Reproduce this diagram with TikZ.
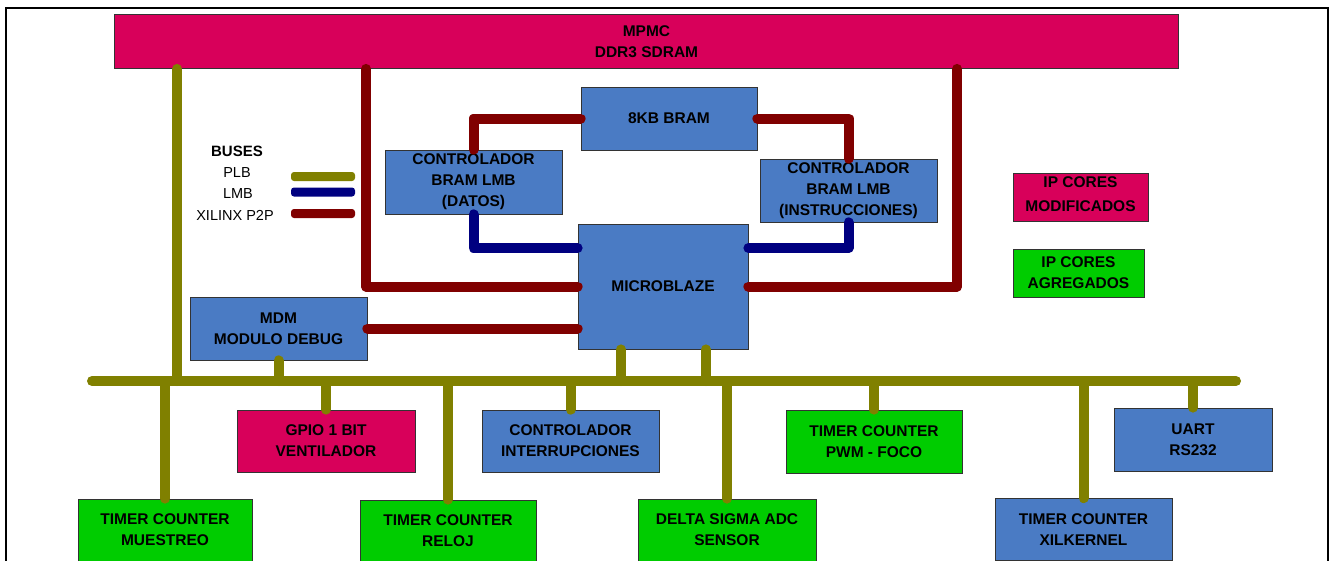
\documentclass[tikz,border=0pt]{standalone}
\usepackage{fontspec}
\setmainfont{Liberation Sans}
\usetikzlibrary{positioning}
\definecolor{mbcrimson}{HTML}{D8005A}
\definecolor{mbblue}{HTML}{4A7BC4}
\definecolor{mbgreen}{HTML}{00CC00}
\definecolor{plbolive}{HTML}{808000}
\definecolor{lmbnavy}{HTML}{000080}
\definecolor{ptpred}{HTML}{800000}

\begin{document}
\begin{tikzpicture}[x=1pt, y=-1pt,
  box/.style={draw=black!80, line width=0.8pt, inner sep=0pt, align=center,
    font=\fontsize{15.5}{21}\selectfont\bfseries},
  bus/.style={line width=10pt, line cap=round, line join=round},
  swatch/.style={rounded corners=3pt, minimum width=64pt, minimum height=9pt, inner sep=0pt},
  legend/.style={inner sep=0pt, font=\fontsize{14.5}{18}\selectfont}]
  \path[use as bounding box, clip] (0,0) rectangle (1333,560);

  % Frame
  \draw[line width=2pt] (6,575) |- (1328,8) -- (1328,575);

  % Blocks
  \node[box, fill=mbcrimson, minimum width=1064pt, minimum height=54pt] (mpmc) at (646.5,41.5) {MPMC\\DDR3 SDRAM};
  \node[box, fill=mbblue, minimum width=176pt, minimum height=63pt] (bram) at (669,118.5) {8KB BRAM};
  \node[box, fill=mbblue, minimum width=177pt, minimum height=64pt] (ctrlD) at (473.5,182) {CONTROLADOR\\BRAM LMB\\(DATOS)};
  \node[box, fill=mbblue, minimum width=177pt, minimum height=63pt] (ctrlI) at (848.5,190.5) {CONTROLADOR\\BRAM LMB\\(INSTRUCCIONES)};
  \node[box, fill=mbblue, minimum width=170pt, minimum height=125pt] (microblaze) at (663,286.5) {MICROBLAZE};
  \node[box, fill=mbblue, minimum width=177pt, minimum height=63pt] (mdm) at (278.5,328.5) {MDM\\MODULO DEBUG};

  \node[box, fill=mbcrimson, minimum width=135pt, minimum height=48pt, text depth=6pt,
    font=\fontsize{15.5}{24}\selectfont\bfseries] (ipmod) at (1080.5,197) {IP CORES\\MODIFICADOS};
  \node[box, fill=mbgreen, minimum width=131pt, minimum height=48pt] (ipagr) at (1078.5,273) {IP CORES\\AGREGADOS};

  % Peripherals
  \node[box, fill=mbcrimson, minimum width=178pt, minimum height=62pt] (gpio) at (326,441) {GPIO 1 BIT\\VENTILADOR};
  \node[box, fill=mbblue, minimum width=177pt, minimum height=62pt] (intr) at (570.5,441) {CONTROLADOR\\INTERRUPCIONES};
  \node[box, fill=mbgreen, minimum width=176pt, minimum height=63pt] (pwm) at (874,441.5) {TIMER COUNTER\\PWM - FOCO};
  \node[box, fill=mbblue, minimum width=158pt, minimum height=63pt] (uart) at (1193,439.5) {UART\\RS232};
  \node[box, fill=mbgreen, minimum width=174pt, minimum height=62pt] (muestreo) at (165,530) {TIMER COUNTER\\MUESTREO};
  \node[box, fill=mbgreen, minimum width=176pt, minimum height=62pt] (reloj) at (448,531) {TIMER COUNTER\\RELOJ};
  \node[box, fill=mbgreen, minimum width=178pt, minimum height=62pt] (delta) at (727,530) {DELTA SIGMA ADC\\SENSOR};
  \node[box, fill=mbblue, minimum width=177pt, minimum height=62pt] (xilk) at (1083.5,529.5) {TIMER COUNTER\\XILKERNEL};

  % Legend
  \node[legend, font=\fontsize{15}{18}\selectfont\bfseries] (lgtitle) at (237,151) {BUSES};
  \node[legend] (lgplb) at (237,172.5) {PLB};
  \node[legend] (lglmb) at (238,194) {LMB};
  \node[legend] (lgptp) at (235,215) {XILINX P2P};
  \node[swatch, fill=plbolive] (swplb) at (323,176.5) {};
  \node[swatch, fill=lmbnavy] (swlmb) at (323,192) {};
  \node[swatch, fill=ptpred] (swptp) at (323,213.5) {};

  % PLB
  \coordinate (busW) at (92,381);
  \coordinate (busE) at (1236,381);
  \coordinate (mpmcplb) at ([xshift=63pt]mpmc.south west);
  \coordinate (mbtapL) at ([xshift=-42pt]microblaze.south);
  \coordinate (mbtapR) at ([xshift=43pt]microblaze.south);
  \draw[bus, plbolive] (busW) -- (busE);
  \draw[bus, plbolive] (mpmcplb) -- (mpmcplb |- busW);
  \draw[bus, plbolive] (mdm.south) -- (mdm.south |- busW);
  \draw[bus, plbolive] (mbtapL) -- (mbtapL |- busW);
  \draw[bus, plbolive] (mbtapR) -- (mbtapR |- busW);
  \foreach \p in {gpio, intr, pwm, uart, muestreo, reloj, delta, xilk}
    \draw[bus, plbolive] (\p.north |- busW) -- (\p.north);

  % Xilinx P2P
  \coordinate (mpmcptpL) at ([xshift=252pt]mpmc.south west);
  \coordinate (mpmcptpR) at ([xshift=843pt]mpmc.south west);
  \draw[bus, ptpred] (mpmcptpL) |- (microblaze.west);
  \draw[bus, ptpred] (mpmcptpR) |- (microblaze.east);
  \draw[bus, ptpred] (mdm.east) -- (mdm.east -| microblaze.west);
  \draw[bus, ptpred] (bram.west) -| (ctrlD.north);
  \draw[bus, ptpred] (bram.east) -| (ctrlI.north);

  % LMB
  \draw[bus, lmbnavy] (ctrlD.south) |- ([yshift=38.5pt]microblaze.west);
  \draw[bus, lmbnavy] (ctrlI.south) |- ([yshift=38.5pt]microblaze.east);
\end{tikzpicture}
\end{document}
